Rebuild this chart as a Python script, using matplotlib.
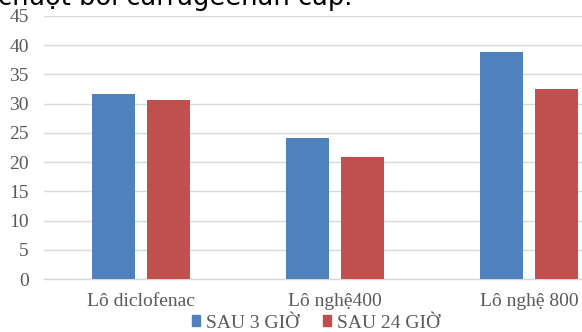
import numpy as np
import matplotlib.pyplot as plt
from matplotlib.patches import Patch

plt.rcParams['font.family'] = ['Liberation Serif', 'DejaVu Serif']

groups = ['Lô diclofenac', 'Lô nghệ400', 'Lô nghệ 800']
series = ['SAU 3 GIỜ', 'SAU 24 GIỜ']
sau_3h = [31.7, 24.1, 38.8]
sau_24h = [30.7, 20.9, 32.5]
colors = ['#4F81BD', '#C0504D']

W, H = 582, 332
fig = plt.figure(figsize=(W / 100, H / 100), dpi=100)

# plot area runs past the right edge of the figure
ax = fig.add_axes([44 / W, 53 / H, 582 / W, 263 / H])

x = np.arange(len(groups))
bw = 0.222
off = 0.144
ax.bar(x - off, sau_3h, bw, color=colors[0], zorder=3)
ax.bar(x + off, sau_24h, bw, color=colors[1], zorder=3)

ax.set_xlim(-0.5, 2.5)
ax.set_ylim(0, 45)
ax.set_yticks(np.arange(0, 46, 5))
ax.yaxis.grid(True, color='#d9d9d9', linewidth=1.0, zorder=0)
ax.set_axisbelow(True)
for s in ['top', 'right', 'left']:
    ax.spines[s].set_visible(False)
ax.spines['bottom'].set_color('#d9d9d9')
ax.spines['bottom'].set_linewidth(1.0)
ax.tick_params(axis='both', length=0, labelsize=14, colors='#595959')
ax.tick_params(axis='y', pad=11)
ax.tick_params(axis='x', pad=10)
ax.set_xticks(x)
ax.set_xticklabels(groups)

handles = [Patch(color=c) for c in colors]
fig.legend(handles, series, loc='center', bbox_to_anchor=(316 / W, 1 - 323 / H),
           ncol=2, frameon=False, fontsize=14, handlelength=0.45, handleheight=0.45,
           handletextpad=0.3, columnspacing=1.2, labelcolor='#595959',
           borderpad=0, borderaxespad=0)

# caption line from the surrounding page, cut off at the top
fig.text(-2 / W, 1 - 5 / H, 'chuột bởi carrageenan cấp.', family='DejaVu Sans',
         fontsize=18.5, color='black', ha='left', va='baseline')

fig.savefig('out.png', dpi=100)
